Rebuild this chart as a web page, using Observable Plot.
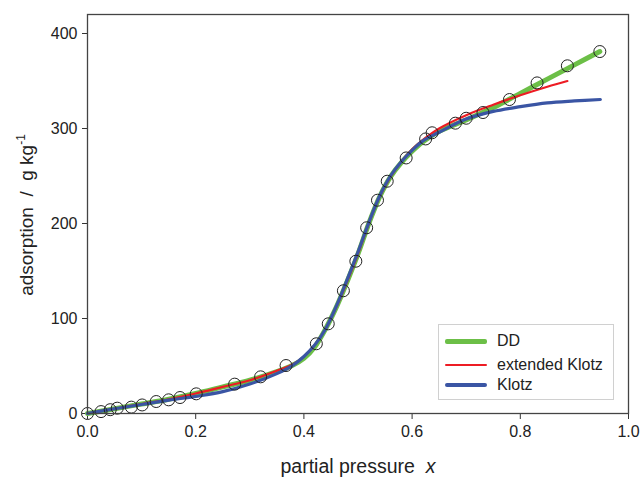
<!DOCTYPE html>
<html>
<head>
<meta charset="utf-8">
<script src="https://cdn.jsdelivr.net/npm/d3@7"></script>
<script src="https://cdn.jsdelivr.net/npm/@observablehq/plot@0.6"></script>
<style>
  body { margin: 0; background: #fff; }
  #wrap { position: relative; width: 642px; height: 479px; overflow: hidden; font-family: "Liberation Sans", Arial, sans-serif; }
  #legend { position: absolute; left: 438px; top: 324px; width: 176px; height: 76px; border: 1px solid #d0d0d0; background: #fff; box-sizing: border-box; }
  #legend .row { position: absolute; left: 6px; height: 20px; display: flex; align-items: center; font-size: 16px; color: #222; }
  #legend .sw { width: 42px; margin-right: 10px; }
</style>
</head>
<body>
<div id="wrap"></div>
<script>
// Measured data points (open circles)
const pointX = [0, 0.025, 0.042, 0.055, 0.081, 0.101, 0.127, 0.150, 0.171, 0.201, 0.272, 0.320, 0.367, 0.423, 0.445, 0.473, 0.496, 0.516, 0.536, 0.554, 0.589, 0.625, 0.637, 0.680, 0.700, 0.731, 0.780, 0.831, 0.887, 0.947];
const pointY = [0, 2, 4, 5.6, 6.7, 9, 12.6, 14.4, 16.8, 20.7, 30.9, 38.6, 50.5, 73.4, 94.4, 129.2, 160.3, 195.5, 224.5, 244.5, 269, 289, 295.5, 305.6, 310.8, 316.8, 330.5, 348, 366, 381];

// DD model curve
const ddX = [0, 0.05, 0.1, 0.15, 0.2, 0.25, 0.3, 0.35, 0.38, 0.4, 0.42, 0.44, 0.46, 0.48, 0.5, 0.52, 0.54, 0.56, 0.58, 0.6, 0.62, 0.65, 0.7, 0.75, 0.8, 0.85, 0.9, 0.947];
const ddY = [0, 5, 10, 15, 21, 28, 35, 44, 51, 58, 70, 89, 112, 139, 168, 200, 228, 249, 264, 276, 286, 297, 309, 322, 337, 352, 367, 381];

// extended Klotz curve
const extX = [0, 0.05, 0.1, 0.15, 0.2, 0.25, 0.3, 0.35, 0.38, 0.4, 0.42, 0.44, 0.46, 0.48, 0.5, 0.52, 0.54, 0.56, 0.58, 0.6, 0.62, 0.65, 0.7, 0.75, 0.8, 0.85, 0.887];
const extY = [0, 5, 10, 15, 21, 28, 35, 45, 52, 60, 72, 89, 112, 139, 168, 200, 228, 249, 265, 278, 288, 300, 314, 325, 335, 344, 350];

// Klotz curve
const klX = [0, 0.05, 0.1, 0.15, 0.2, 0.25, 0.3, 0.35, 0.38, 0.4, 0.42, 0.44, 0.46, 0.48, 0.5, 0.52, 0.54, 0.56, 0.58, 0.6, 0.62, 0.65, 0.7, 0.75, 0.8, 0.85, 0.9, 0.948];
const klY = [0, 5, 9.5, 14, 18, 23, 31, 42, 51, 60, 72, 89, 113, 141, 170, 201, 229, 250, 265, 277, 287, 296, 310, 318, 323, 327, 329, 330.5];

const xTicks = [0, 0.2, 0.4, 0.6, 0.8, 1.0];
const yTicks = [0, 100, 200, 300, 400];

const seriesNames = ["DD", "extended Klotz", "Klotz"];
const seriesColors = ["#6cbf47", "#ed1c24", "#3a55a4"];
const seriesWidths = [5, 2.2, 3.2];

const zip = (xs, ys) => xs.map((x, i) => ({x, y: ys[i]}));
const points = zip(pointX, pointY);
const dd = zip(ddX, ddY);
const ext = zip(extX, extY);
const kl = zip(klX, klY);

const svg = Plot.plot({
  width: 642,
  height: 479,
  marginLeft: 87,
  marginRight: 14,
  marginTop: 14,
  marginBottom: 66,
  style: {fontFamily: "Liberation Sans, Arial, sans-serif", fontSize: "16px", color: "#222", background: "#fff"},
  x: {domain: [0, 1], label: null},
  y: {domain: [0, 420], label: null},
  marks: [
    Plot.axisX({ticks: xTicks, tickFormat: d3.format(".1f"), tickSize: 6, tickPadding: 6, fontSize: 16, label: null, stroke: "#333"}),
    Plot.axisY({ticks: yTicks, tickSize: 5, tickPadding: 5, fontSize: 16, label: null, stroke: "#333"}),
    Plot.line(dd, {x: "x", y: "y", stroke: seriesColors[0], strokeWidth: seriesWidths[0], curve: "catmull-rom"}),
    Plot.line(ext, {x: "x", y: "y", stroke: seriesColors[1], strokeWidth: seriesWidths[1], curve: "catmull-rom"}),
    Plot.line(kl, {x: "x", y: "y", stroke: seriesColors[2], strokeWidth: seriesWidths[2], curve: "catmull-rom"}),
    Plot.dot(points, {x: "x", y: "y", r: 6, stroke: "#222", strokeWidth: 1, fill: "none"}),
    Plot.frame({stroke: "#444", strokeWidth: 1.3})
  ]
});

const s = d3.select(svg);
// y axis label
const yl = s.append("text")
  .attr("transform", "translate(33,215) rotate(-90)")
  .attr("text-anchor", "middle")
  .attr("font-size", 19)
  .attr("fill", "#222")
  .attr("font-family", "Liberation Sans, Arial, sans-serif");
yl.append("tspan").text("adsorption\u00a0\u00a0/\u00a0\u00a0g kg");
yl.append("tspan").attr("font-size", 12).attr("dy", "-0.7em").text("-1");

// x axis label
const xl = s.append("text")
  .attr("x", 358)
  .attr("y", 473)
  .attr("text-anchor", "middle")
  .attr("font-size", 19.5)
  .attr("fill", "#222")
  .attr("font-family", "Liberation Sans, Arial, sans-serif");
xl.append("tspan").text("partial pressure\u00a0\u00a0");
xl.append("tspan").attr("font-style", "italic").text("x");

const wrap = document.getElementById("wrap");
wrap.appendChild(svg);

// legend
const legend = document.createElement("div");
legend.id = "legend";
const rowTops = [6, 30, 50];
seriesNames.forEach((name, i) => {
  const row = document.createElement("div");
  row.className = "row";
  row.style.top = rowTops[i] + "px";
  const sw = document.createElement("div");
  sw.className = "sw";
  sw.style.height = seriesWidths[i] + "px";
  sw.style.background = seriesColors[i];
  sw.style.borderRadius = "2px";
  const lab = document.createElement("span");
  lab.textContent = name;
  row.appendChild(sw);
  row.appendChild(lab);
  legend.appendChild(row);
});
wrap.appendChild(legend);
</script>
</body>
</html>
